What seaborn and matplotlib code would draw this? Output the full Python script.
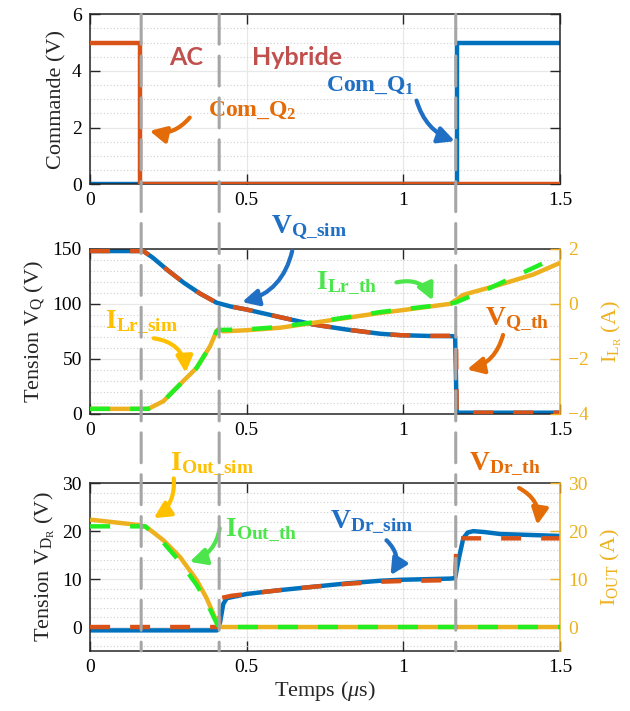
import matplotlib
matplotlib.use("Agg")
import matplotlib.pyplot as plt
import seaborn as sns
from matplotlib.patches import ConnectionPatch
from matplotlib.ticker import MultipleLocator

# ------------------------------------------------------------------ data
x_ticks = [0, 0.5, 1, 1.5]
x_tick_labels = ["0", "0.5", "1", "1.5"]
phase_t = [0.163, 0.412, 1.167]

# top panel: gate commands (V)
com_q1_t = [0, 1.17, 1.17, 1.5]
com_q1 = [0, 0, 5, 5]
com_q2_t = [0, 0.16, 0.16, 1.5]
com_q2 = [5, 5, 0, 0]

# middle panel: V_Q (V) and I_Lr (A)
vq_sim_t = [0, 0.17, 0.20, 0.25, 0.30, 0.35, 0.404, 0.45, 0.50, 0.606, 0.713,
            0.819, 0.926, 0.99, 1.08, 1.149, 1.165, 1.17, 1.175, 1.5]
vq_sim = [148, 148, 142, 130, 119, 109.5, 101, 97.5, 94.8, 87.9, 81.2,
          76.6, 72.8, 71.5, 70.8, 70.6, 70.4, 2, 1, 1]
vq_th_t = [0, 0.17, 0.20, 0.25, 0.30, 0.35, 0.404, 0.45, 0.50, 0.606, 0.713,
           0.819, 0.926, 0.99, 1.08, 1.149, 1.16, 1.168, 1.17, 1.5]
vq_th = [148, 148, 142, 130, 119, 109.5, 101, 97.5, 94.8, 87.9, 81.2,
         76.6, 72.8, 71.5, 70.8, 71, 72, 71.5, 1, 1]
ilr_sim_t = [0, 0.186, 0.234, 0.266, 0.30, 0.34, 0.383, 0.404, 0.41, 0.425,
             0.5, 0.606, 0.713, 0.819, 0.926, 0.99, 1.149, 1.17, 1.19, 1.22,
             1.309, 1.415, 1.5]
ilr_sim = [-3.82, -3.82, -3.54, -3.17, -2.78, -2.33, -1.54, -0.99, -0.92, -1.0,
           -0.96, -0.87, -0.69, -0.51, -0.33, -0.24, 0.0, 0.16, 0.32, 0.42,
           0.70, 1.07, 1.49]
ilr_th_t = [0, 0.186, 0.234, 0.266, 0.30, 0.34, 0.383, 0.404, 0.412, 0.5,
            0.606, 0.713, 0.819, 0.926, 0.99, 1.149, 1.167, 1.277, 1.426, 1.46]
ilr_th = [-3.82, -3.82, -3.54, -3.17, -2.78, -2.33, -1.54, -0.99, -0.95, -0.93,
          -0.84, -0.67, -0.49, -0.30, -0.21, 0.0, 0.05, 0.58, 1.37, 1.55]

# bottom panel: V_Dr (V) and I_out (A)
vdr_sim_t = [0, 0.405, 0.415, 0.425, 0.436, 0.5, 0.606, 0.713, 0.819, 0.926,
             0.99, 1.149, 1.165, 1.176, 1.191, 1.205, 1.223, 1.26, 1.309, 1.5]
vdr_sim = [-0.7, -0.7, 1.0, 4.8, 6.0, 6.9, 7.7, 8.4, 9.1, 9.65,
           9.85, 10.1, 10.2, 14.0, 18.5, 19.7, 20.0, 19.8, 19.4, 19.0]
vdr_th_t = [0, 0.412, 0.415, 0.45, 0.5, 0.606, 0.713, 0.819, 0.926, 1.0,
            1.165, 1.17, 1.5]
vdr_th = [0, 0, 6.0, 6.5, 6.9, 7.7, 8.4, 9.0, 9.45, 9.6, 9.8, 18.5, 18.5]
iout_sim_t = [0, 0.16, 0.181, 0.234, 0.287, 0.34, 0.372, 0.404, 0.415, 1.5]
iout_sim = [22.4, 21.25, 20.8, 18.1, 14.6, 9.8, 6.0, 1.1, 0, 0]
iout_th_t = [0, 0.176, 0.234, 0.287, 0.34, 0.372, 0.404, 0.412, 1.5]
iout_th = [21.0, 21.0, 17.6, 13.6, 8.8, 5.2, 0.8, 0, 0]

# ------------------------------------------------------------------ style
sns.set_style("ticks")
plt.rcParams.update({
    "font.family": ["Liberation Serif", "DejaVu Serif"],
    "mathtext.fontset": "custom",
    "mathtext.rm": "Liberation Serif",
    "mathtext.it": "Liberation Serif:italic",
    "mathtext.bf": "Liberation Serif:bold",
    "lines.dash_capstyle": "butt",
    "lines.solid_capstyle": "butt",
    "axes.edgecolor": "#262626",
    "axes.linewidth": 1.1,
})

BLUE = "#0072BD"
ORANGE = "#D95319"
YELLOW = "#EDB120"
GREEN = "#22EE22"
GRAY = "#A6A6A6"
LW = 3.2
DASH = (0, (4.5, 4.5))
SERIF = ["Liberation Serif", "DejaVu Serif"]

fig = plt.figure(figsize=(6.3, 7.11), dpi=100)
L, W = 0.143, 0.746
ax_top = fig.add_axes([L, 0.741, W, 0.239])
ax_mid = fig.add_axes([L, 0.418, W, 0.232])
ax_bot = fig.add_axes([L, 0.0844, W, 0.236])


def style_axis(ax, ylim, yticks, minor, right_ticks=True):
    ax.set_xlim(0, 1.5)
    ax.set_ylim(*ylim)
    ax.set_xticks(x_ticks)
    ax.set_xticklabels(x_tick_labels)
    ax.set_yticks(yticks)
    ax.yaxis.set_minor_locator(MultipleLocator(minor))
    ax.set_axisbelow(True)
    ax.grid(which="major", color="#E8E8E8", lw=0.9)
    ax.grid(which="minor", axis="y", color="#CFCFCF", lw=0.8,
            linestyle=(0, (1, 2)))
    ax.tick_params(which="major", direction="in", length=7, width=1.0,
                   top=True, right=right_ticks, labelsize=14, pad=6,
                   colors="#262626", labelcolor="black")
    ax.tick_params(which="minor", length=0)
    for lab in ax.get_xticklabels() + ax.get_yticklabels():
        lab.set_family(SERIF)


def style_twin(ax2, ylim, yticks):
    ax2.set_ylim(*ylim)
    ax2.set_yticks(yticks)
    for s in ("top", "left", "bottom"):
        ax2.spines[s].set_visible(False)
    ax2.spines["right"].set_color(YELLOW)
    ax2.tick_params(axis="y", direction="in", length=7, width=1.0,
                    colors=YELLOW, labelsize=14, pad=6)
    for lab in ax2.get_yticklabels():
        lab.set_family(SERIF)


def line(ax, t, v, color, dashed=False, z=2):
    kw = {"linestyle": DASH} if dashed else {}
    sns.lineplot(x=t, y=v, ax=ax, color=color, lw=LW, estimator=None,
                 sort=False, zorder=z, **kw)


# ---------------- top panel
line(ax_top, com_q1_t, com_q1, BLUE)
line(ax_top, com_q2_t, com_q2, ORANGE, z=3)
style_axis(ax_top, (0, 6), [0, 2, 4, 6], 0.5)
ax_top.set_ylabel("Commande (V)", fontsize=16, family=SERIF)

# ---------------- middle panel
line(ax_mid, vq_sim_t, vq_sim, BLUE)
line(ax_mid, vq_th_t, vq_th, ORANGE, dashed=True, z=3)
style_axis(ax_mid, (0, 150), [0, 50, 100, 150], 10, right_ticks=False)
ax_mid.spines["right"].set_visible(False)
ax_mid.set_ylabel(r"Tension V$_\mathrm{Q}$ (V)", fontsize=16, family=SERIF)
ax_mid2 = ax_mid.twinx()
line(ax_mid2, ilr_sim_t, ilr_sim, YELLOW)
line(ax_mid2, ilr_th_t, ilr_th, GREEN, dashed=True, z=3)
style_twin(ax_mid2, (-4, 2), [-4, -2, 0, 2])
ax_mid2.set_ylabel(r"I$_{\mathrm{L}_\mathrm{R}}$ (A)", fontsize=16,
                   color=YELLOW, labelpad=8, family=SERIF)

# ---------------- bottom panel
line(ax_bot, vdr_sim_t, vdr_sim, BLUE)
line(ax_bot, vdr_th_t, vdr_th, ORANGE, dashed=True, z=3)
style_axis(ax_bot, (-5, 30), [0, 10, 20, 30], 2, right_ticks=False)
ax_bot.spines["right"].set_visible(False)
ax_bot.set_ylabel(r"Tension V$_{\mathrm{D}_\mathrm{R}}$ (V)", fontsize=16,
                  family=SERIF)
ax_bot.set_xlabel(r"Temps ($\mu$s)", fontsize=16, labelpad=2, family=SERIF)
ax_bot2 = ax_bot.twinx()
line(ax_bot2, iout_sim_t, iout_sim, YELLOW)
line(ax_bot2, iout_th_t, iout_th, GREEN, dashed=True, z=3)
style_twin(ax_bot2, (-5, 30), [0, 10, 20, 30])
ax_bot2.set_ylabel(r"I$_\mathrm{OUT}$ (A)", fontsize=16, color=YELLOW,
                   labelpad=8, family=SERIF)

for a in (ax_top, ax_mid, ax_mid2, ax_bot, ax_bot2):
    if a.get_legend():
        a.get_legend().remove()
ax_top.set_xlabel("")
ax_mid.set_xlabel("")

# ---------------- phase separators spanning all panels
for t in phase_t:
    con = ConnectionPatch(xyA=(t, 1.0), coordsA=ax_top.get_xaxis_transform(),
                          xyB=(t, 0.0), coordsB=ax_bot.get_xaxis_transform(),
                          color=GRAY, lw=2.2, linestyle=(0, (9.8, 3.9)),
                          zorder=10)
    fig.add_artist(con)

# ---------------- annotations
ax_top.text(0.308, 4.19, "AC", fontsize=18, fontweight="bold",
            family="Lato", color="#C0504D", ha="center", va="baseline")
ax_top.text(0.66, 4.19, "Hybride", fontsize=18, fontweight="bold",
            family="Lato", color="#C0504D", ha="center", va="baseline")

notes = [
    # axis, text, (x, y) text baseline centre, tail, head, color, rad, size
    (ax_top, r"$\mathbf{Com\_Q_2}$", (0.517, 2.41), (0.318, 2.35),
     (0.19, 1.88), "#E36C09", -0.3, 17),
    (ax_top, r"$\mathbf{Com\_Q_1}$", (0.895, 3.30), (1.042, 2.95),
     (1.164, 1.52), "#1F6FC5", 0.25, 17),
    (ax_mid, r"$\mathbf{V_{Q\_sim}}$", (0.70, 164), (0.645, 148),
     (0.485, 101.6), "#1F6FC5", -0.3, 20),
    (ax_mid, r"$\mathbf{I_{Lr\_th}}$", (0.818, 113.5), (0.978, 119.5),
     (1.094, 103), "#4CE64C", -0.4, 20),
    (ax_mid, r"$\mathbf{I_{Lr\_sim}}$", (0.165, 77.7), (0.203, 68.7),
     (0.305, 37.3), "#FFC000", -0.4, 20),
    (ax_mid, r"$\mathbf{V_{Q\_th}}$", (1.363, 80.7), (1.318, 71.7),
     (1.203, 40.3), "#E36C09", -0.3, 20),
    (ax_bot, r"$\mathbf{I_{Out\_sim}}$", (0.39, 32.7), (0.267, 31),
     (0.203, 22.7), "#FFC000", -0.3, 20),
    (ax_bot, r"$\mathbf{I_{Out\_th}}$", (0.545, 19.0), (0.414, 20.6),
     (0.318, 13.6), "#4CE64C", -0.3, 20),
    (ax_bot, r"$\mathbf{V_{Dr\_sim}}$", (0.90, 20.6), (0.946, 18.1),
     (0.959, 10.8), "#1F6FC5", -0.4, 20),
    (ax_bot, r"$\mathbf{V_{Dr\_th}}$", (1.324, 32.8), (1.369, 29),
     (1.427, 21.3), "#E36C09", -0.35, 20),
]
for ax, txt, pos, tail, head, col, rad, size in notes:
    ax.text(pos[0], pos[1], txt, color=col, fontsize=size, ha="center",
            va="baseline", clip_on=False, zorder=20)
    ax.annotate("", xy=head, xytext=tail, annotation_clip=False, zorder=20,
                arrowprops=dict(arrowstyle="-|>,head_length=0.75,head_width=0.38",
                                connectionstyle=f"arc3,rad={rad}",
                                color=col, lw=3.0, shrinkA=0, shrinkB=0,
                                mutation_scale=13))

fig.savefig("out.png", dpi=100, facecolor="white")
